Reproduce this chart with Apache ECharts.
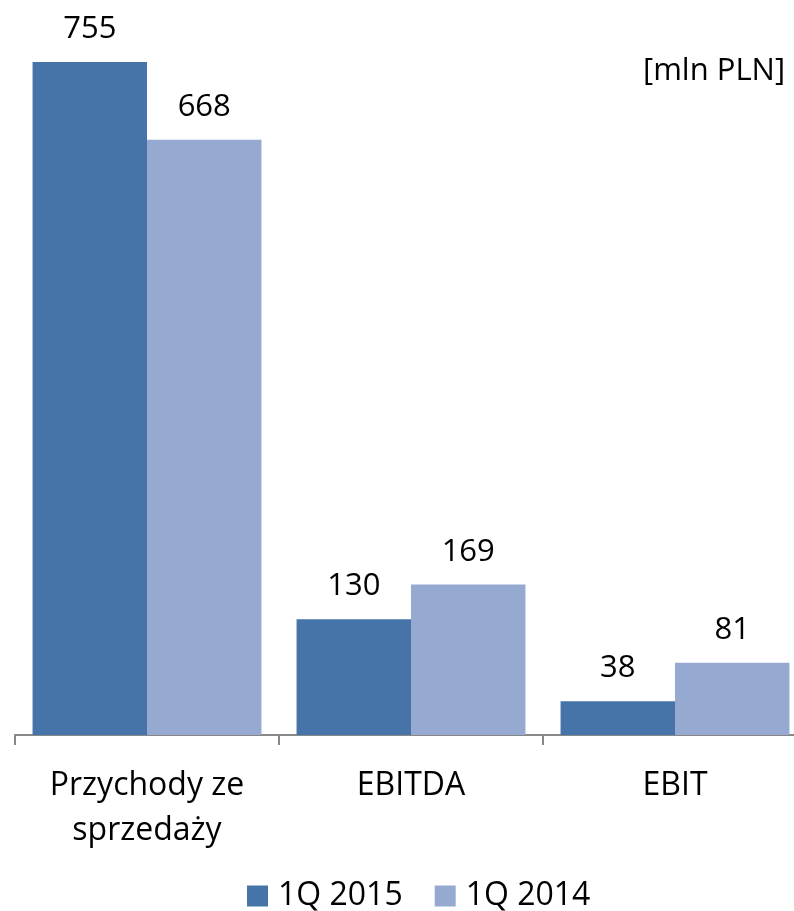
<!DOCTYPE html>
<html><head><meta charset="utf-8">
<script src="https://cdn.jsdelivr.net/npm/echarts@6/dist/echarts.min.js"></script>
<style>html,body{margin:0;padding:0;background:#fff}#c{width:794px;height:911px}</style>
</head><body><div id="c"></div>
<script>
const categories = ['Przychody ze\nsprzedaży', 'EBITDA', 'EBIT'];
const series2015 = [755, 130, 38];
const series2014 = [668, 169, 81];
const seriesNames = ['1Q 2015', '1Q 2014'];
const unitLabel = '[mln PLN]';

const FONT = 'Open Sans';
const chart = echarts.init(document.getElementById('c'));
chart.setOption({
  animation: false,
  textStyle: { fontFamily: FONT },
  grid: { left: 15, width: 792, top: 22, height: 713, containLabel: false, outerBoundsMode: 'none' },
  graphic: [{
    type: 'text', left: 643, top: 56,
    style: { text: unitLabel, font: '31px "Open Sans"', fill: '#000' }
  }],
  legend: {
    top: 875, left: 242, itemWidth: 21, itemHeight: 21, itemGap: 32,
    icon: 'rect',
    textStyle: { fontSize: 32, color: '#000', fontFamily: FONT, padding: [0, 0, 0, 5] },
    data: seriesNames
  },
  xAxis: {
    type: 'category', data: categories,
    axisLine: { lineStyle: { color: '#888', width: 2 } },
    axisTick: { show: true, length: 10, lineStyle: { color: '#888', width: 2 } },
    axisLabel: { color: '#000', fontSize: 32, lineHeight: 45, margin: 28, fontFamily: FONT, interval: 0 }
  },
  yAxis: { type: 'value', min: 0, max: 800, show: false, splitLine: { show: false } },
  series: [
    { name: seriesNames[0], type: 'bar', data: series2015, barGap: '0%', barCategoryGap: '13.3%',
      itemStyle: { color: '#4673A8' },
      label: { show: true, position: 'top', distance: 17, fontSize: 31, color: '#000', fontFamily: FONT } },
    { name: seriesNames[1], type: 'bar', data: series2014, barGap: '0%', barCategoryGap: '13.3%',
      itemStyle: { color: '#95A9D1' },
      label: { show: true, position: 'top', distance: 17, fontSize: 31, color: '#000', fontFamily: FONT } }
  ]
});
</script></body></html>
